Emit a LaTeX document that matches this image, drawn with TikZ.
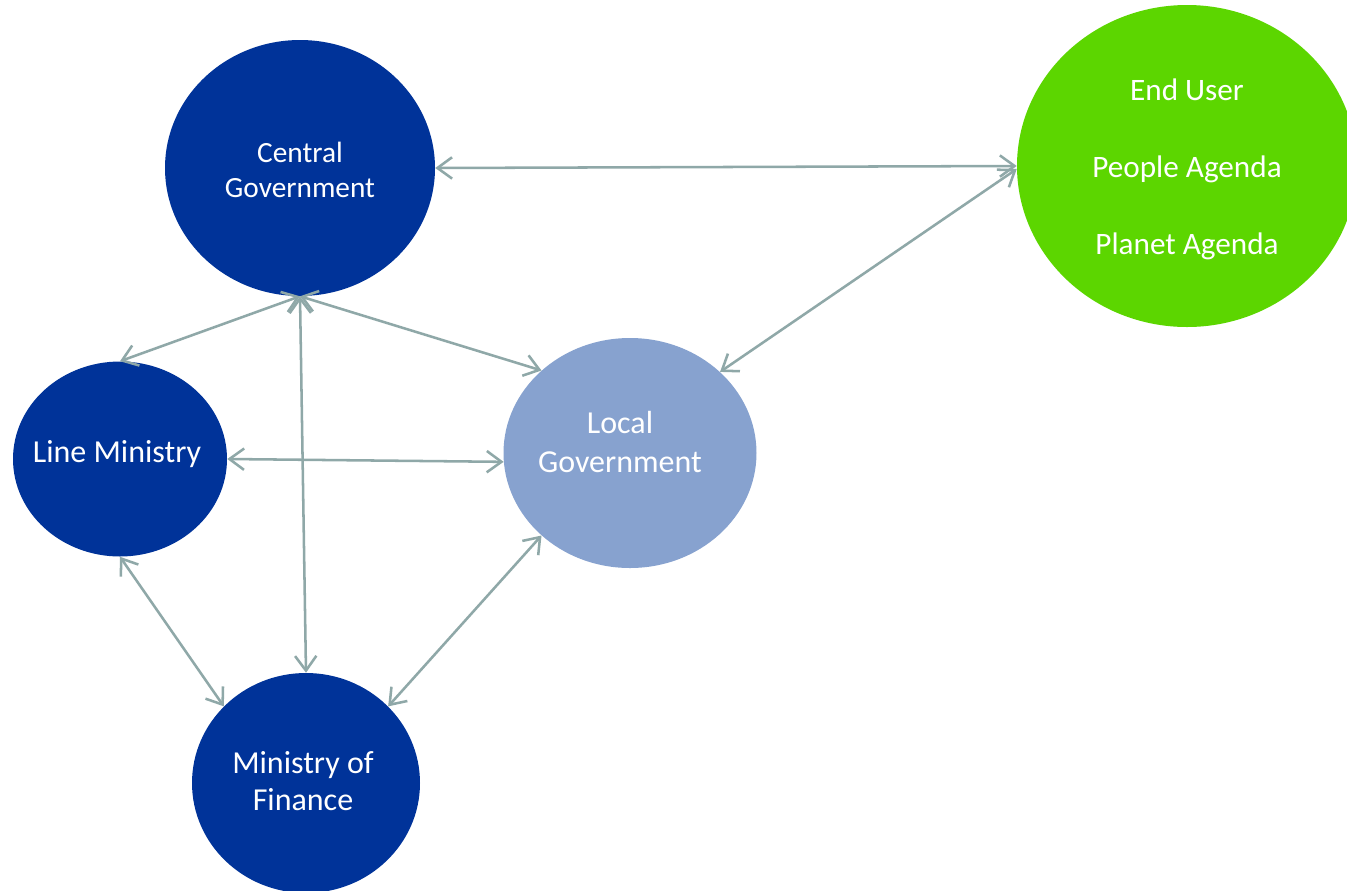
\documentclass[tikz,border=0pt]{standalone}
\usepackage{fontspec}
\setmainfont{Carlito}
\usetikzlibrary{shapes.geometric,arrows.meta}
\definecolor{dblue}{RGB}{0,51,153}
\definecolor{lblue}{RGB}{135,162,207}
\definecolor{egreen}{RGB}{92,214,0}
\definecolor{arrowgray}{RGB}{143,168,168}
\tikzset{
  ell/.style={ellipse, draw=none, inner sep=0pt, text=white, align=center},
  txt/.style={text=white, align=center, inner sep=0pt},
  link/.style={draw=arrowgray, line width=1.9pt,
    {Straight Barb[length=11pt,width=16pt]}-{Straight Barb[length=11pt,width=16pt]}},
}
\begin{document}
\begin{tikzpicture}[x=0.75pt,y=-0.75pt]
\useasboundingbox (0,0) rectangle (1347,890);
\clip (0,0) rectangle (1347,890);
\fill[white] (0,0) rectangle (1347,890);
\node[ell, fill=dblue, minimum width=202.5pt, minimum height=192pt] (cg) at (300,168) {};
\node[txt, font=\fontsize{22pt}{26.25pt}\selectfont] (cgt) at (300,170) {Central\\Government};
\node[ell, fill=egreen, minimum width=255pt, minimum height=241.5pt] (eu) at (1187,166) {};
\node[txt, font=\fontsize{23.4pt}{57.75pt}\selectfont] (eut) at (1187,169) {End User\\People Agenda\\Planet Agenda};
\node[ell, fill=dblue, minimum width=160.5pt, minimum height=146.25pt] (lm) at (120,459) {};
\node[txt, font=\fontsize{24pt}{27pt}\selectfont] (lmt) at (117,454) {Line Ministry};
\node[ell, fill=lblue, minimum width=189.75pt, minimum height=172.5pt] (lg) at (630,453) {};
\node[txt, font=\fontsize{24pt}{29.25pt}\selectfont] (lgt) at (620,442) {Local\\Government};
\node[ell, fill=dblue, minimum width=171pt, minimum height=165pt] (mof) at (306,783) {};
\node[txt, font=\fontsize{24pt}{27.75pt}\selectfont] (moft) at (303,781) {Ministry of\\Finance};
\draw[link] (cg.east) -- (eu.west);
\draw[link] (eu.181) -- (lg.42);
\draw[link] (cg.south) -- (lm.north);
\draw[link] (cg.south) -- (lg.137);
\draw[link] (cg.south) -- (mof.north);
\draw[link] (lm.0) -- (lg.184);
\draw[link] (lm.south) -- (mof.137);
\draw[link] (lg.223) -- (mof.43);
\end{tikzpicture}
\end{document}
